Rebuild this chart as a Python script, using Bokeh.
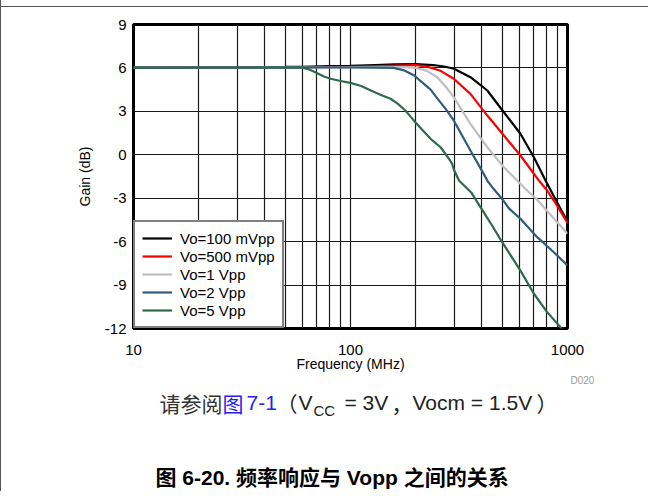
from bokeh.plotting import figure
from bokeh.layouts import column
from bokeh.models import (FixedTicker, NumeralTickFormatter, Legend, LegendItem, Range1d,
                          LinearAxis, CustomJSTickFormatter)
from bokeh.core.properties import value
from bokeh.embed import file_html
from bokeh.resources import INLINE

# ---------------- data ----------------
x_major = [10, 100, 1000]
x_minor = [20, 30, 40, 50, 60, 70, 80, 90, 200, 300, 400, 500, 600, 700, 800, 900]
y_ticks = [-12, -9, -6, -3, 0, 3, 6, 9]

black_f = [10, 20, 30, 40, 50, 60, 80, 100, 130, 160, 200, 240, 270, 300, 357, 427, 509, 607, 700, 751, 792, 896, 1000]
black_db = [6.02, 6.03, 6.05, 6.06, 6.07, 6.08, 6.12, 6.15, 6.2, 6.24, 6.26, 6.2, 6.1, 5.94, 5.36, 4.44, 2.94, 1.45, -0.17, -1.09, -1.78, -3.3, -4.62]

red_f = [10, 30, 60, 100, 150, 200, 230, 260, 299, 357, 427, 509, 607, 700, 738, 806, 865, 1000]
red_db = [6.02, 6.03, 6.05, 6.08, 6.15, 6.2, 6.05, 5.8, 5.25, 4.21, 2.71, 1.33, -0.05, -1.31, -1.78, -2.47, -3.16, -4.7]

gray_f = [10, 30, 60, 100, 150, 180, 200, 225, 251, 275, 299, 357, 427, 509, 586, 651, 725, 865, 1000]
gray_db = [6.02, 6.03, 6.04, 6.05, 6.06, 6.05, 6.0, 5.8, 5.36, 4.7, 3.98, 2.14, 0.52, -0.86, -1.78, -2.47, -3.1, -4.4, -5.45]

blue_f = [10, 30, 60, 100, 130, 158, 175, 196, 210, 234, 251, 275, 299, 357, 411, 427, 453, 500, 537, 607, 725, 865, 1000]
blue_db = [6.02, 6.03, 6.04, 6.03, 6.02, 6.0, 5.85, 5.5, 5.1, 4.5, 3.9, 3.15, 2.37, 0.3, -1.32, -1.78, -2.3, -3.05, -3.7, -4.42, -5.69, -6.73, -7.65]

green_f = [10, 30, 60, 65, 70, 75, 81, 90, 100, 112, 124, 140, 153, 166, 179, 190, 199, 215, 234, 260, 285, 294, 299, 316, 360, 397, 450, 500, 550, 607, 700, 806, 929, 960]
green_db = [6.02, 6.03, 6.02, 5.88, 5.65, 5.42, 5.25, 5.1, 4.97, 4.75, 4.44, 4.1, 3.87, 3.5, 3.06, 2.6, 2.25, 1.7, 1.1, 0.52, -0.3, -0.62, -1.0, -1.78, -2.6, -3.62, -4.9, -6.04, -7.0, -8.0, -9.6, -10.87, -11.91, -12.2]

series_labels = ["Vo=100 mVpp", "Vo=500 mVpp", "Vo=1 Vpp", "Vo=2 Vpp", "Vo=5 Vpp"]
series_colors = ["#000000", "#ff0000", "#bfbfbf", "#2e5d7d", "#2e6b4c"]

# ---------------- layout ----------------
W = 648
H1 = 374          # chart figure
H2 = 117          # caption figure
FL, FR, FT, FB = 133, 567, 24, 329

LINE = "#555555"
p = figure(width=W, height=H1, x_axis_type="log", x_range=(10, 1000), y_range=(-12, 9),
           output_backend="svg", toolbar_location=None,
           min_border_left=FL, min_border_right=W - FR,
           min_border_top=FT, min_border_bottom=H1 - FB)
p.title.visible = False
p.border_fill_color = None
p.styles = {"background": f"linear-gradient({LINE},{LINE}) 0 6px / 100% 1px no-repeat, "
                          f"linear-gradient({LINE},{LINE}) 0 0 / 1px 100% no-repeat, #ffffff"}
p.background_fill_color = "white"

p.outline_line_color = "black"
p.outline_line_width = 3
p.outline_line_alpha = 1

FONT = "Liberation Sans"

p.xaxis.ticker = FixedTicker(ticks=x_major, minor_ticks=x_minor)
p.xaxis.formatter = NumeralTickFormatter(format="0")
p.yaxis.ticker = FixedTicker(ticks=y_ticks)
p.yaxis.formatter = NumeralTickFormatter(format="0")
for ax in (p.xaxis, p.yaxis):
    ax.major_tick_line_color = None
    ax.minor_tick_line_color = None
    ax.axis_line_color = None
    ax.major_label_text_font = FONT
    ax.major_label_text_font_size = "15px"
    ax.major_label_text_color = "#000000"
    ax.axis_label_text_font = FONT
    ax.axis_label_text_font_size = "14px"
    ax.axis_label_text_font_style = "normal"
    ax.axis_label_text_color = "#000000"
p.xaxis.axis_label = "Frequency (MHz)"
p.yaxis.axis_label = "Gain (dB)"
p.xaxis.major_label_standoff = 10
p.xaxis.axis_label_standoff = -2
p.yaxis.major_label_standoff = 1
p.yaxis.axis_label_standoff = 9
p.yaxis.major_label_text_align = "right"

for g in (p.xgrid, p.ygrid):
    g.grid_line_color = "#1a1a1a"
    g.grid_line_width = 1.2
    g.grid_line_alpha = 1
p.xgrid.minor_grid_line_color = "#1a1a1a"
p.xgrid.minor_grid_line_width = 1.2

all_f = [black_f, red_f, gray_f, blue_f, green_f]
all_db = [black_db, red_db, gray_db, blue_db, green_db]
items = []
for f, db, lab, col in zip(all_f, all_db, series_labels, series_colors):
    r = p.line(f, db, line_color=col, line_width=2.2)
    items.append(LegendItem(label=lab, renderers=[r]))

legend = Legend(items=items, location="bottom_left", margin=0, padding=7, spacing=0,
                label_height=18, glyph_height=18, glyph_width=30, label_standoff=8,
                label_text_font=FONT, label_text_font_size="15px", label_text_color="#000000",
                border_line_color="black", border_line_width=2.5,
                background_fill_color="white", background_fill_alpha=1)
p.add_layout(legend)

# ---------------- caption figure ----------------
# its frame is aligned with the chart frame by the column layout, so the
# x range is set so that a value equals a pixel position on the page
c = figure(width=W, height=H2, x_range=Range1d(FL, FR), y_range=Range1d(H2, 0),
           output_backend="svg", toolbar_location=None, min_border=0,
           x_axis_location=None, y_axis_location=None)
c.title.visible = False
c.grid.visible = False
c.outline_line_color = None
c.background_fill_color = None
c.border_fill_color = None
c.styles = {"background": f"linear-gradient({LINE},{LINE}) 0 0 / 1px 100% no-repeat, #ffffff"}

# "D020" figure id as a one-tick axis at the right of the caption area
d_axis = LinearAxis(ticker=FixedTicker(ticks=[5]),
                    formatter=CustomJSTickFormatter(code="return 'D020'"),
                    major_tick_line_color=None, minor_tick_line_color=None,
                    axis_line_color=None, major_label_standoff=-3,
                    major_label_text_font=FONT, major_label_text_font_size="10px",
                    major_label_text_color="#9a9a9a")
c.add_layout(d_axis, "right")

CJK = "Noto Sans CJK SC"
MIX = "Liberation Sans, Noto Sans CJK SC"


def txt(x, y, text, size, color, font, style="normal", align="left"):
    c.text(x=[x], y=[y], text=[text], text_font=value(font), text_font_size=value(size),
           text_color=color, text_font_style=style, text_align=align, text_baseline="middle")


cy = 28
txt(159, cy, "请参阅", "21px", "#333333", CJK)
txt(222, cy, "图", "21px", "#2323ee", CJK)
txt(246, cy, "7-1", "21px", "#2323ee", FONT)
txt(276, cy, "（", "21px", "#222222", CJK)
txt(298, cy, "V", "21px", "#222222", FONT)
txt(313, cy + 8, "CC", "15px", "#222222", FONT)
txt(344, cy, "= 3V", "21px", "#222222", FONT)
txt(391, cy, "，", "21px", "#222222", CJK)
txt(412, cy, "Vocm = 1.5V", "21px", "#222222", FONT)
txt(536, cy, "）", "21px", "#222222", CJK)
txt(155, 103, "图 6-20. 频率响应与 Vopp 之间的关系", "21px", "#000000", MIX, style="bold")

layout = column(p, c, spacing=0)
open("out.html", "w").write(file_html(layout, INLINE))
